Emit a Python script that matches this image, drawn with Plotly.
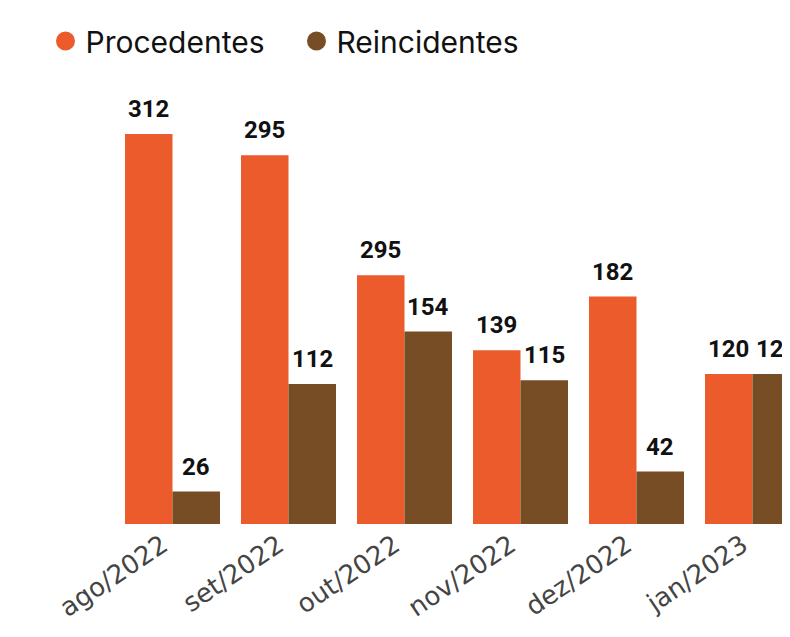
import plotly.graph_objects as go

categories = ["ago/2022", "set/2022", "out/2022", "nov/2022", "dez/2022", "jan/2023"]
procedentes = [312, 295, 199, 139, 182, 120]
procedentes_labels = ["312", "295", "295", "139", "182", "120"]
reincidentes = [26, 112, 154, 115, 42, 120]
reincidentes_labels = ["26", "112", "154", "115", "42", "120"]

C_PROC = "#EB5B2B"
C_REIN = "#774D25"
FONT = "Inter"
TICK_FONT = "DejaVu Sans"
LABEL_FONT = "Roboto"

# page has 8px body margin, so the figure sits at (8, 8)
W, H = 782, 629
ML, MR, MT, MB = 52, 0, 92, 113
px_per_cat = 116.0
first_center = 164.5
px_per_unit = 1.25
BARGAP = 0.181

x0 = -(first_center - ML) / px_per_cat
x1 = (W - MR - first_center) / px_per_cat
y1 = (H - MB - MT) / px_per_unit

fig = go.Figure()
fig.add_trace(go.Bar(x=categories, y=procedentes, name="Procedentes",
                     marker=dict(color=C_PROC, line=dict(width=0)),
                     showlegend=False, hoverinfo="skip"))
fig.add_trace(go.Bar(x=categories, y=reincidentes, name="Reincidentes",
                     marker=dict(color=C_REIN, line=dict(width=0)),
                     showlegend=False, hoverinfo="skip"))
for name, col in [("Procedentes", C_PROC), ("Reincidentes", C_REIN)]:
    fig.add_trace(go.Scatter(x=[None], y=[None], mode="markers", name=name,
                             marker=dict(symbol="circle", size=16, color=col,
                                         line=dict(width=3, color=col))))

half = px_per_cat * (1 - BARGAP) / 4
annotations = []
for cat, v, lab in zip(categories, procedentes, procedentes_labels):
    annotations.append(dict(x=cat, y=v, text=f"<b>{lab}</b>", showarrow=False,
                            xshift=-half, yshift=9, yanchor="bottom",
                            font=dict(family=LABEL_FONT, size=24, color="#111111")))
for cat, v, lab in zip(categories, reincidentes, reincidentes_labels):
    annotations.append(dict(x=cat, y=v, text=f"<b>{lab}</b>", showarrow=False,
                            xshift=half, yshift=9, yanchor="bottom",
                            font=dict(family=LABEL_FONT, size=24, color="#111111")))

fig.update_layout(
    width=W, height=H,
    margin=dict(l=ML, r=MR, t=MT, b=MB),
    paper_bgcolor="white", plot_bgcolor="white",
    barmode="group", bargap=BARGAP, bargroupgap=0,
    font=dict(family=FONT),
    showlegend=True,
    legend=dict(orientation="h", xref="container", yref="container",
                x=37.5 / W, y=1 - 7 / H, xanchor="left", yanchor="top",
                entrywidth=206,
                font=dict(family=FONT, size=30, color="#111111"),
                itemclick=False, itemdoubleclick=False),
    xaxis=dict(range=[x0, x1], showgrid=False, zeroline=False, showline=False,
               ticks="", tickangle=-34, ticklabelshift=-10,
               tickfont=dict(family=TICK_FONT, size=26, color="#444444")),
    yaxis=dict(range=[0, y1], visible=False, showgrid=False, zeroline=False),
    annotations=annotations,
)

fig.write_html("out.html")
